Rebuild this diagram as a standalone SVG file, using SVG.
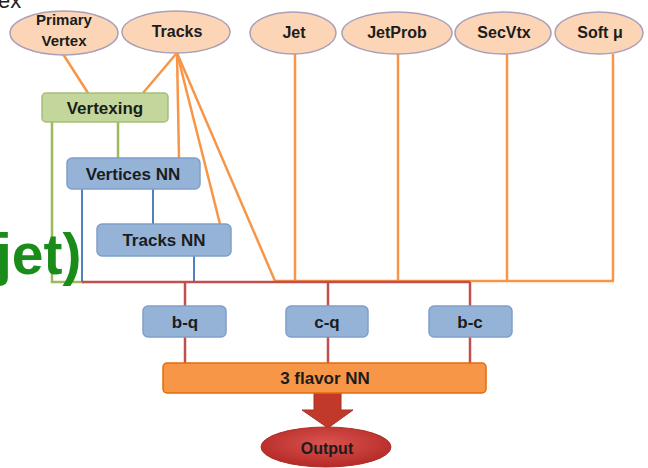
<svg xmlns="http://www.w3.org/2000/svg" width="648" height="468" viewBox="0 0 648 468">
<defs>
<style>
.t{font-family:"Liberation Sans",Arial,sans-serif;font-weight:bold;font-size:16px;fill:#1c1c1c;text-anchor:middle}
.in{fill:#fbd5b5;stroke:#a9a0b8;stroke-width:1.5}
.nn{fill:#95b3d7;stroke:#7f9fca;stroke-width:1.5}
.o{stroke:#f79646;stroke-width:2.5;fill:none}
.g{stroke:#9bbb59;stroke-width:2.5;fill:none}
.b{stroke:#4f81bd;stroke-width:2;fill:none}
.r{stroke:#c0504d;stroke-width:2.5;fill:none}
</style>
<radialGradient id="og" cx="50%" cy="40%" r="60%">
<stop offset="0" stop-color="#d9534f"/>
<stop offset="1" stop-color="#b52a26"/>
</radialGradient>
</defs>
<rect width="648" height="468" fill="#ffffff"/>
<text x="-2" y="8" style="font-family:'Liberation Sans',Arial,sans-serif;font-size:22px;fill:#222">ex</text>
<g id="connectors">
<line class="o" x1="63" y1="54" x2="88" y2="93"/>
<line class="o" x1="176" y1="54" x2="143" y2="93"/>
<line class="o" x1="177" y1="53" x2="179" y2="158"/>
<line class="o" x1="177" y1="53" x2="220" y2="224"/>
<line class="o" x1="177" y1="53" x2="275" y2="281"/>
<line class="o" x1="295" y1="54" x2="295" y2="281"/>
<line class="o" x1="398" y1="54" x2="398" y2="281"/>
<line class="o" x1="507" y1="54" x2="507" y2="281"/>
<line class="o" x1="613" y1="54" x2="613" y2="281"/>
<line class="o" x1="275" y1="281" x2="614" y2="281"/>
<line class="g" x1="118" y1="122" x2="118" y2="158"/>
<polyline class="g" points="52,122 52,282 84,282"/>
<line class="b" x1="82" y1="189" x2="82" y2="282"/>
<line class="b" x1="153" y1="189" x2="153" y2="224"/>
<line class="b" x1="194" y1="256" x2="194" y2="282"/>
<line class="r" x1="82" y1="282" x2="470" y2="282"/>
<line class="r" x1="185" y1="282" x2="185" y2="306"/>
<line class="r" x1="328" y1="282" x2="328" y2="306"/>
<line class="r" x1="470" y1="282" x2="470" y2="306"/>
<line class="r" x1="185" y1="337" x2="185" y2="363"/>
<line class="r" x1="328" y1="337" x2="328" y2="363"/>
<line class="r" x1="470" y1="337" x2="470" y2="363"/>
<polygon points="314,393 341,393 341,410 353,410 328,428 302,410 314,410" fill="#c0392b" stroke="#a93226" stroke-width="1"/>
</g>
<g id="primary-vertex"><ellipse class="in" cx="64" cy="33" rx="54" ry="22"/><text class="t" x="64" y="25" style="font-size:15px">Primary</text><text class="t" x="64" y="46" style="font-size:15px">Vertex</text></g>
<g id="tracks"><ellipse class="in" cx="176" cy="32" rx="54" ry="21"/><text class="t" x="177" y="37">Tracks</text></g>
<g id="jet"><ellipse class="in" cx="293" cy="33" rx="43" ry="21"/><text class="t" x="294" y="38">Jet</text></g>
<g id="jetprob"><ellipse class="in" cx="397" cy="33" rx="55" ry="21"/><text class="t" x="397" y="38">JetProb</text></g>
<g id="secvtx"><ellipse class="in" cx="503" cy="33" rx="48" ry="21"/><text class="t" x="504" y="38">SecVtx</text></g>
<g id="softmu"><ellipse class="in" cx="599" cy="33" rx="44" ry="21"/><text class="t" x="600" y="38">Soft μ</text></g>
<g id="vertexing"><rect x="42" y="93" width="126" height="29" rx="4" fill="#c3d69b" stroke="#a6bf7a" stroke-width="1.5"/><text class="t" x="105" y="114" style="font-size:17px">Vertexing</text></g>
<g id="vertices-nn"><rect class="nn" x="67" y="158" width="133" height="31" rx="5"/><text class="t" x="133" y="180" style="font-size:17px">Vertices NN</text></g>
<g id="tracks-nn"><rect class="nn" x="97" y="224" width="134" height="32" rx="5"/><text class="t" x="164" y="246" style="font-size:17px">Tracks NN</text></g>
<g id="b-q"><rect class="nn" x="143" y="306" width="83" height="31" rx="5"/><text class="t" x="185" y="328" style="font-size:17px">b-q</text></g>
<g id="c-q"><rect class="nn" x="286" y="306" width="82" height="31" rx="5"/><text class="t" x="327" y="328" style="font-size:17px">c-q</text></g>
<g id="b-c"><rect class="nn" x="429" y="306" width="83" height="31" rx="5"/><text class="t" x="470" y="328" style="font-size:17px">b-c</text></g>
<g id="three-flavor-nn"><rect x="163" y="363" width="323" height="30" rx="4" fill="#f79646" stroke="#e46c0a" stroke-width="1.5"/><text class="t" x="325" y="384" style="font-size:17px">3 flavor NN</text></g>
<g id="output"><ellipse cx="326" cy="447" rx="65" ry="20" fill="url(#og)" stroke="#a93226" stroke-width="1"/><text class="t" x="327" y="454">Output</text></g>
<text x="-4" y="274" style="font-family:'Liberation Sans',Arial,sans-serif;font-weight:bold;font-size:57px;fill:#1a8c1a">jet)</text>
</svg>
